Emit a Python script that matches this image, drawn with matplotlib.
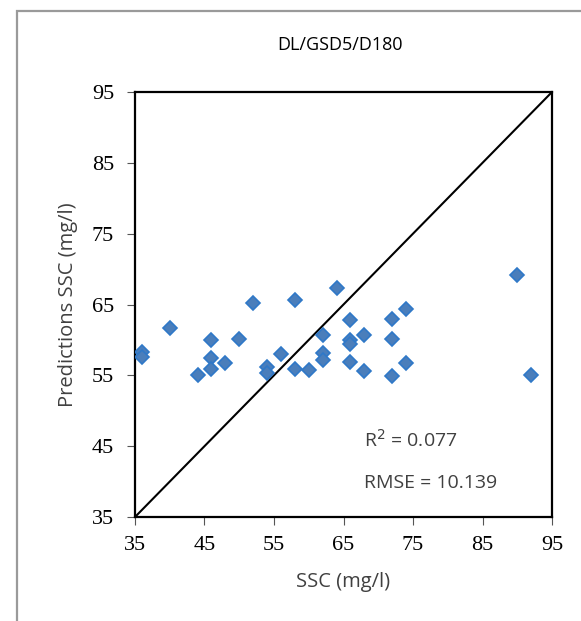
import matplotlib
matplotlib.use("Agg")
import matplotlib.pyplot as plt
from matplotlib.patches import Rectangle

# observed vs predicted SSC (mg/l)
ssc_obs = [36, 36, 40, 44, 46, 46, 46, 48, 50, 52, 54, 54, 56, 58, 58, 60,
           62, 62, 62, 64, 66, 66, 66, 66, 68, 68, 72, 72, 72, 74, 74, 90, 92]
ssc_pred = [58.3, 57.6, 61.7, 55.0, 60.0, 57.5, 55.9, 56.8, 60.1, 65.2, 56.2,
            55.3, 58.0, 65.7, 55.9, 55.7, 60.7, 58.1, 57.1, 67.4, 62.8, 60.0,
            59.4, 56.9, 60.7, 55.6, 63.0, 60.2, 54.9, 64.4, 56.8, 69.2, 55.1]
ticks = [35, 45, 55, 65, 75, 85, 95]
title = "DL/GSD5/D180"
stats = ["R$^2$ = 0.077", "RMSE = 10.139"]

W, H = 581, 621
fig = plt.figure(figsize=(W / 100, H / 100), dpi=100)
fig.patch.set_facecolor("white")

# outer chart-area frame (cut off at right and bottom)
fig.add_artist(Rectangle((17 / W, -0.05), 1.1, 1 - 11 / H + 0.05,
                         transform=fig.transFigure, fill=False,
                         edgecolor="#9a9a9a", linewidth=1.6))

ax = fig.add_axes([135 / W, 1 - 517 / H, (552 - 135) / W, (517 - 92) / H])
ax.set_xlim(35, 95)
ax.set_ylim(35, 95)

ax.plot([35, 95], [35, 95], color="black", linewidth=1.5, zorder=2)
ax.plot(ssc_obs, ssc_pred, linestyle="none", marker="D", markersize=7,
        markerfacecolor="#4a7ebb", markeredgecolor="#2f78c8",
        markeredgewidth=1.2, zorder=3)

ax.set_xticks(ticks)
ax.set_yticks(ticks)
ax.tick_params(direction="out", length=6, width=0.8, color="#555555",
               labelsize=16)
ax.tick_params(axis="x", pad=8)
ax.tick_params(axis="y", pad=9)
for lab in ax.get_xticklabels() + ax.get_yticklabels():
    lab.set_fontfamily("Liberation Serif")
for sp in ax.spines.values():
    sp.set_linewidth(1.6)
    sp.set_color("black")

sans = "Open Sans"
ax.set_xlabel("SSC (mg/l)", fontfamily=sans, fontsize=14.5, color="#404040",
              labelpad=12)
ax.set_ylabel("Predictions SSC (mg/l)", fontfamily=sans, fontsize=14.5,
              color="#404040", labelpad=10)
fig.text(340 / W, 1 - 45 / H, title, ha="center", va="center",
         fontfamily=sans, fontsize=13, color="black")

ax.text(67.9, 45.9, stats[0], ha="left", va="center", fontfamily=sans,
        fontsize=14, color="#404040")
ax.text(67.9, 39.8, stats[1], ha="left", va="center", fontfamily=sans,
        fontsize=14, color="#404040")

fig.savefig("out.png", dpi=100)
